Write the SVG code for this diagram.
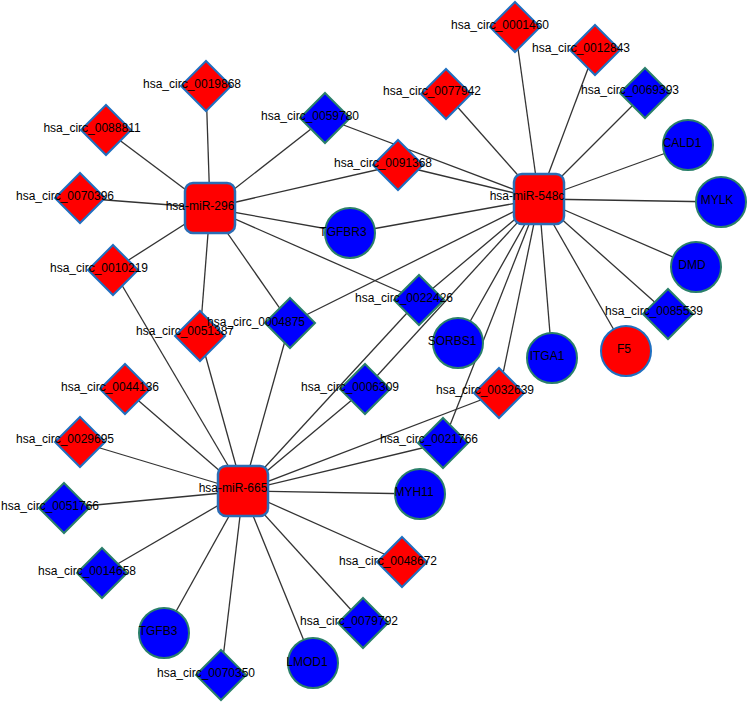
<svg xmlns="http://www.w3.org/2000/svg" width="750" height="703" viewBox="0 0 750 703">
<defs>
<style>
text{font-family:"Liberation Sans",Arial,sans-serif;font-size:12px;fill:#000;text-anchor:middle}
.e line{stroke:#333;stroke-width:1.3}
.hub{fill:#ff0000;stroke:#2a6db5;stroke-width:2.5}
.dr{fill:#ff0000;stroke:#1f6fc0;stroke-width:2}
.db{fill:#0000ff;stroke:#2a7f6a;stroke-width:2}
.cb{fill:#0000ff;stroke:#2a7f6a;stroke-width:2}
.cr{fill:#ff0000;stroke:#1f6fc0;stroke-width:2}
</style>
<polygon id="dia" points="0,-25 25,0 0,25 -25,0"/>
</defs>
<rect width="750" height="703" fill="#fff"/>
<g class="e" id="edges">
<!-- miR-296 -->
<line x1="210" y1="208" x2="206" y2="86"/>
<line x1="210" y1="208" x2="106" y2="130"/>
<line x1="210" y1="208" x2="80" y2="198"/>
<line x1="210" y1="208" x2="113" y2="270"/>
<line x1="210" y1="208" x2="325" y2="118"/>
<line x1="210" y1="208" x2="398" y2="165"/>
<line x1="210" y1="208" x2="350" y2="233"/>
<line x1="210" y1="208" x2="200" y2="336"/>
<line x1="210" y1="208" x2="290" y2="323"/>
<line x1="210" y1="208" x2="419" y2="300"/>
<!-- miR-548c -->
<line x1="539" y1="199" x2="515" y2="27"/>
<line x1="539" y1="199" x2="595" y2="50"/>
<line x1="539" y1="199" x2="645" y2="93"/>
<line x1="539" y1="199" x2="446" y2="94"/>
<line x1="539" y1="199" x2="688" y2="145"/>
<line x1="539" y1="199" x2="721" y2="202"/>
<line x1="539" y1="199" x2="696" y2="267"/>
<line x1="539" y1="199" x2="668" y2="314"/>
<line x1="539" y1="199" x2="626" y2="351"/>
<line x1="539" y1="199" x2="552" y2="358"/>
<line x1="539" y1="199" x2="458" y2="343"/>
<line x1="539" y1="199" x2="499" y2="393"/>
<line x1="539" y1="199" x2="443" y2="443"/>
<line x1="539" y1="199" x2="365" y2="389"/>
<line x1="539" y1="199" x2="419" y2="300"/>
<line x1="539" y1="199" x2="290" y2="323"/>
<line x1="539" y1="199" x2="350" y2="233"/>
<line x1="539" y1="199" x2="398" y2="165"/>
<line x1="539" y1="199" x2="325" y2="118"/>
<!-- miR-665 -->
<line x1="243" y1="491" x2="113" y2="270"/>
<line x1="243" y1="491" x2="200" y2="336"/>
<line x1="243" y1="491" x2="290" y2="323"/>
<line x1="243" y1="491" x2="419" y2="300"/>
<line x1="243" y1="491" x2="365" y2="389"/>
<line x1="243" y1="491" x2="499" y2="393"/>
<line x1="243" y1="491" x2="443" y2="443"/>
<line x1="243" y1="491" x2="420" y2="494"/>
<line x1="243" y1="491" x2="402" y2="562"/>
<line x1="243" y1="491" x2="363" y2="623"/>
<line x1="243" y1="491" x2="313" y2="663"/>
<line x1="243" y1="491" x2="221" y2="675"/>
<line x1="243" y1="491" x2="164" y2="633"/>
<line x1="243" y1="491" x2="102" y2="573"/>
<line x1="243" y1="491" x2="64" y2="508"/>
<line x1="243" y1="491" x2="80" y2="442"/>
<line x1="243" y1="491" x2="125" y2="389"/>
</g>
<g id="nodes">
<g id="miR-296"><rect class="hub" x="185" y="183" width="50" height="50" rx="8"/><text x="200" y="210">hsa-miR-296</text></g>
<g id="miR-548c"><rect class="hub" x="514" y="174" width="50" height="50" rx="8"/><text x="527" y="200">hsa-miR-548c</text></g>
<g id="miR-665"><rect class="hub" x="218" y="466" width="50" height="50" rx="8"/><text x="233" y="492">hsa-miR-665</text></g>

<g id="c0019868"><use href="#dia" class="dr" x="206" y="86"/><text x="192" y="88">hsa_circ_0019868</text></g>
<g id="c0088811"><use href="#dia" class="dr" x="106" y="130"/><text x="92" y="132">hsa_circ_0088811</text></g>
<g id="c0070396"><use href="#dia" class="dr" x="80" y="198"/><text x="65" y="200">hsa_circ_0070396</text></g>
<g id="c0059780"><use href="#dia" class="db" x="325" y="118"/><text x="310" y="120">hsa_circ_0059780</text></g>
<g id="c0077942"><use href="#dia" class="dr" x="446" y="94"/><text x="432" y="95">hsa_circ_0077942</text></g>
<g id="c0091368"><use href="#dia" class="dr" x="398" y="165"/><text x="383" y="167">hsa_circ_0091368</text></g>
<g id="c0001460"><use href="#dia" class="dr" x="515" y="27"/><text x="500" y="29">hsa_circ_0001460</text></g>
<g id="c0012843"><use href="#dia" class="dr" x="595" y="50"/><text x="581" y="52">hsa_circ_0012843</text></g>
<g id="c0069393"><use href="#dia" class="db" x="645" y="93"/><text x="630" y="94">hsa_circ_0069393</text></g>
<g id="c0010219"><use href="#dia" class="dr" x="113" y="270"/><text x="99" y="272">hsa_circ_0010219</text></g>
<g id="c0051387"><use href="#dia" class="dr" x="200" y="336"/><text x="185" y="335">hsa_circ_0051387</text></g>
<g id="c0004875"><use href="#dia" class="db" x="290" y="323"/><text x="256" y="326">hsa_circ_0004875</text></g>
<g id="c0022426"><use href="#dia" class="db" x="419" y="300"/><text x="404" y="302">hsa_circ_0022426</text></g>
<g id="c0044136"><use href="#dia" class="dr" x="125" y="389"/><text x="110" y="391">hsa_circ_0044136</text></g>
<g id="c0006309"><use href="#dia" class="db" x="365" y="389"/><text x="350" y="391">hsa_circ_0006309</text></g>
<g id="c0032639"><use href="#dia" class="dr" x="499" y="393"/><text x="485" y="394">hsa_circ_0032639</text></g>
<g id="c0085539"><use href="#dia" class="db" x="668" y="314"/><text x="654" y="315">hsa_circ_0085539</text></g>
<g id="c0029695"><use href="#dia" class="dr" x="80" y="442"/><text x="65" y="443">hsa_circ_0029695</text></g>
<g id="c0021766"><use href="#dia" class="db" x="443" y="443"/><text x="429" y="443">hsa_circ_0021766</text></g>
<g id="c0051766"><use href="#dia" class="db" x="64" y="508"/><text x="50" y="510">hsa_circ_0051766</text></g>
<g id="c0014658"><use href="#dia" class="db" x="102" y="573"/><text x="87" y="575">hsa_circ_0014658</text></g>
<g id="c0048672"><use href="#dia" class="dr" x="402" y="562"/><text x="388" y="565">hsa_circ_0048672</text></g>
<g id="c0079792"><use href="#dia" class="db" x="363" y="623"/><text x="349" y="625">hsa_circ_0079792</text></g>
<g id="c0070350"><use href="#dia" class="db" x="221" y="675"/><text x="206" y="677">hsa_circ_0070350</text></g>

<g id="TGFBR3"><circle class="cb" cx="350" cy="233" r="25"/><text x="343" y="236">TGFBR3</text></g>
<g id="CALD1"><circle class="cb" cx="688" cy="145" r="25"/><text x="682" y="147">CALD1</text></g>
<g id="MYLK"><circle class="cb" cx="721" cy="202" r="25"/><text x="717" y="204">MYLK</text></g>
<g id="DMD"><circle class="cb" cx="696" cy="267" r="25"/><text x="692" y="269">DMD</text></g>
<g id="F5"><circle class="cr" cx="626" cy="351" r="25"/><text x="624" y="353">F5</text></g>
<g id="ITGA1"><circle class="cb" cx="552" cy="358" r="25"/><text x="547" y="360">ITGA1</text></g>
<g id="SORBS1"><circle class="cb" cx="458" cy="343" r="25"/><text x="452" y="345">SORBS1</text></g>
<g id="MYH11"><circle class="cb" cx="420" cy="494" r="25"/><text x="414" y="496">MYH11</text></g>
<g id="LMOD1"><circle class="cb" cx="313" cy="663" r="25"/><text x="307" y="666">LMOD1</text></g>
<g id="TGFB3"><circle class="cb" cx="164" cy="633" r="25"/><text x="158" y="635">TGFB3</text></g>
</g>
</svg>
